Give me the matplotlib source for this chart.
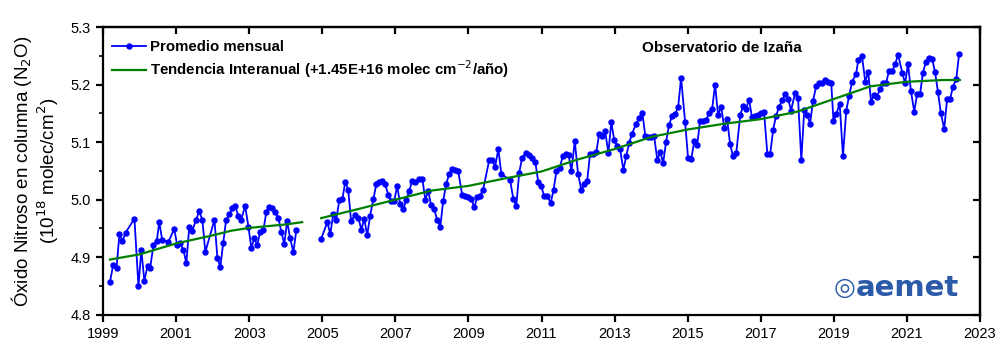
import numpy as np
import matplotlib
matplotlib.use('Agg')
import matplotlib.pyplot as plt
from matplotlib.ticker import MultipleLocator, FormatStrFormatter

plt.rcParams['font.family'] = ['Liberation Sans', 'DejaVu Sans']

# Promedio mensual, 1999 - 2004
years_a = [1999.19, 1999.28, 1999.37, 1999.45, 1999.53, 1999.62, 1999.86, 1999.97,
           2000.05, 2000.13, 2000.22, 2000.29, 2000.38, 2000.47, 2000.54, 2000.62,
           2000.79, 2000.95, 2001.03, 2001.11, 2001.20, 2001.28, 2001.36, 2001.44,
           2001.55, 2001.63, 2001.72, 2001.80, 2002.05, 2002.13, 2002.21, 2002.29,
           2002.37, 2002.46, 2002.54, 2002.62, 2002.70, 2002.78, 2002.89, 2002.98,
           2003.06, 2003.14, 2003.22, 2003.30, 2003.39, 2003.47, 2003.55, 2003.63,
           2003.71, 2003.80, 2003.88, 2003.96, 2004.04, 2004.12, 2004.21, 2004.29]
n2o_a = [4.857, 4.887, 4.881, 4.941, 4.928, 4.943, 4.967, 4.850,
         4.913, 4.859, 4.885, 4.881, 4.921, 4.928, 4.961, 4.930,
         4.927, 4.949, 4.921, 4.924, 4.913, 4.890, 4.952, 4.946,
         4.965, 4.980, 4.965, 4.909, 4.965, 4.899, 4.883, 4.925,
         4.965, 4.975, 4.986, 4.989, 4.972, 4.965, 4.989, 4.953,
         4.916, 4.933, 4.921, 4.944, 4.947, 4.979, 4.988, 4.986,
         4.979, 4.968, 4.944, 4.923, 4.963, 4.933, 4.909, 4.947]

# Promedio mensual, 2005 - 2022
years_b = [2004.97, 2005.14, 2005.22, 2005.30, 2005.38, 2005.47, 2005.55, 2005.63,
           2005.71, 2005.79, 2005.90, 2005.99, 2006.07, 2006.15, 2006.23, 2006.31,
           2006.40, 2006.48, 2006.56, 2006.64, 2006.72, 2006.81, 2006.89, 2006.97,
           2007.05, 2007.13, 2007.22, 2007.30, 2007.38, 2007.46, 2007.54, 2007.65,
           2007.74, 2007.82, 2007.90, 2007.98, 2008.06, 2008.15, 2008.23, 2008.31,
           2008.39, 2008.47, 2008.56, 2008.64, 2008.72, 2008.83, 2008.91, 2008.99,
           2009.08, 2009.16, 2009.24, 2009.32, 2009.40, 2009.57, 2009.65, 2009.73,
           2009.82, 2009.90, 2010.14, 2010.23, 2010.31, 2010.39, 2010.47, 2010.58,
           2010.66, 2010.75, 2010.83, 2010.91, 2010.99, 2011.07, 2011.16, 2011.25,
           2011.33, 2011.41, 2011.50, 2011.58, 2011.66, 2011.74, 2011.82, 2011.91,
           2012.00, 2012.09, 2012.17, 2012.25, 2012.33, 2012.41, 2012.50, 2012.58,
           2012.66, 2012.74, 2012.83, 2012.91, 2012.99, 2013.07, 2013.15, 2013.24,
           2013.32, 2013.40, 2013.48, 2013.59, 2013.67, 2013.76, 2013.84, 2013.92,
           2014.00, 2014.08, 2014.17, 2014.25, 2014.33, 2014.41, 2014.49, 2014.58,
           2014.66, 2014.74, 2014.82, 2014.93, 2015.01, 2015.10, 2015.18, 2015.26,
           2015.34, 2015.42, 2015.51, 2015.59, 2015.67, 2015.75, 2015.83, 2015.92,
           2016.00, 2016.08, 2016.16, 2016.24, 2016.33, 2016.44, 2016.52, 2016.60,
           2016.68, 2016.76, 2016.85, 2016.93, 2017.01, 2017.09, 2017.18, 2017.26,
           2017.34, 2017.42, 2017.50, 2017.59, 2017.67, 2017.75, 2017.83, 2017.94,
           2018.02, 2018.11, 2018.19, 2018.27, 2018.35, 2018.43, 2018.52, 2018.60,
           2018.68, 2018.76, 2018.84, 2018.93, 2018.99, 2019.07, 2019.16, 2019.25,
           2019.34, 2019.42, 2019.50, 2019.61, 2019.67, 2019.77, 2019.86, 2019.94,
           2020.02, 2020.10, 2020.18, 2020.27, 2020.35, 2020.43, 2020.51, 2020.60,
           2020.68, 2020.76, 2020.87, 2020.95, 2021.03, 2021.11, 2021.20, 2021.28,
           2021.36, 2021.44, 2021.52, 2021.61, 2021.69, 2021.77, 2021.85, 2021.93,
           2022.02, 2022.10, 2022.18, 2022.26, 2022.35, 2022.43]
n2o_b = [4.932, 4.961, 4.940, 4.975, 4.965, 5.000, 5.001, 5.031,
         5.017, 4.963, 4.974, 4.968, 4.948, 4.967, 4.938, 4.972,
         5.001, 5.027, 5.031, 5.033, 5.027, 5.008, 4.998, 4.998,
         5.024, 4.993, 4.984, 5.000, 5.015, 5.033, 5.031, 5.036,
         5.036, 5.000, 5.015, 4.990, 4.984, 4.964, 4.953, 4.998,
         5.027, 5.044, 5.053, 5.051, 5.050, 5.008, 5.007, 5.005,
         5.001, 4.987, 5.004, 5.007, 5.017, 5.069, 5.069, 5.057,
         5.088, 5.045, 5.034, 5.001, 4.989, 5.047, 5.073, 5.082,
         5.078, 5.073, 5.066, 5.031, 5.024, 5.007, 5.007, 4.994,
         5.017, 5.050, 5.055, 5.076, 5.080, 5.078, 5.050, 5.102,
         5.045, 5.017, 5.027, 5.033, 5.080, 5.080, 5.083, 5.115,
         5.111, 5.120, 5.081, 5.135, 5.104, 5.094, 5.088, 5.052,
         5.076, 5.099, 5.115, 5.132, 5.142, 5.151, 5.111, 5.109,
         5.109, 5.111, 5.069, 5.083, 5.064, 5.101, 5.130, 5.146,
         5.149, 5.161, 5.212, 5.135, 5.073, 5.071, 5.102, 5.095,
         5.137, 5.137, 5.139, 5.151, 5.158, 5.200, 5.148, 5.161,
         5.125, 5.140, 5.097, 5.076, 5.081, 5.148, 5.163, 5.158,
         5.174, 5.143, 5.145, 5.148, 5.150, 5.153, 5.080, 5.080,
         5.122, 5.146, 5.161, 5.173, 5.184, 5.175, 5.155, 5.186,
         5.177, 5.069, 5.156, 5.148, 5.132, 5.172, 5.198, 5.203,
         5.202, 5.208, 5.205, 5.202, 5.137, 5.149, 5.167, 5.076,
         5.155, 5.181, 5.205, 5.219, 5.243, 5.250, 5.205, 5.222,
         5.170, 5.182, 5.179, 5.193, 5.202, 5.203, 5.224, 5.224,
         5.236, 5.252, 5.221, 5.202, 5.236, 5.189, 5.153, 5.184,
         5.184, 5.221, 5.240, 5.247, 5.245, 5.222, 5.187, 5.150,
         5.123, 5.175, 5.175, 5.196, 5.210, 5.254]

# Tendencia interanual
trend_years_a = [1999.19, 2000.0, 2001.0, 2002.0, 2002.5, 2003.0, 2004.0, 2004.45]
trend_a = [4.896, 4.905, 4.924, 4.938, 4.946, 4.951, 4.957, 4.961]
trend_years_b = [2004.97, 2006.0, 2007.0, 2008.0, 2009.0, 2010.0, 2011.0, 2012.0,
                 2013.0, 2014.0, 2015.0, 2016.0, 2017.0, 2018.0, 2019.0, 2020.0,
                 2021.0, 2022.0, 2022.45]
trend_b = [4.968, 4.984, 5.000, 5.016, 5.024, 5.037, 5.049, 5.070,
           5.088, 5.109, 5.122, 5.132, 5.140, 5.153, 5.175, 5.197,
           5.205, 5.208, 5.208]

fig = plt.figure(figsize=(10, 3.61), dpi=100)
ax = fig.add_axes([0.103, 0.128, 0.877, 0.797])

blue = '#0000ff'
green = '#008000'
ax.plot(years_a, n2o_a, '-o', color=blue, lw=1.3, ms=3.6, zorder=2,
        label='Promedio mensual')
ax.plot(years_b, n2o_b, '-o', color=blue, lw=1.3, ms=3.6, zorder=2)
ax.plot(trend_years_a, trend_a, '-', color=green, lw=1.6, zorder=3,
        label='Tendencia Interanual (+1.45E+16 molec cm$^{-2}$/año)')
ax.plot(trend_years_b, trend_b, '-', color=green, lw=1.6, zorder=3)

ax.set_xlim(1999, 2023)
ax.set_ylim(4.8, 5.3)
ax.set_xticks(np.arange(1999, 2024, 2))
ax.yaxis.set_major_locator(MultipleLocator(0.1))
ax.yaxis.set_minor_locator(MultipleLocator(0.05))
ax.yaxis.set_major_formatter(FormatStrFormatter('%.1f'))

for s in ax.spines.values():
    s.set_linewidth(1.6)
ax.tick_params(axis='both', which='major', labelsize=10.5, width=1.6, length=5,
               direction='out')
ax.tick_params(axis='y', which='minor', width=1.2, length=3, direction='out')

# mirrored ticks on top and right, pointing inward
ax_top = ax.secondary_xaxis('top')
ax_top.set_xticks(np.arange(1999, 2024, 2))
ax_top.tick_params(direction='in', width=1.6, length=5, labeltop=False)
ax_right = ax.secondary_yaxis('right')
ax_right.yaxis.set_major_locator(MultipleLocator(0.1))
ax_right.tick_params(direction='in', width=1.6, length=5, labelright=False)
ax_right.spines['right'].set_linewidth(1.6)
ax_top.spines['top'].set_linewidth(1.6)

ax.set_ylabel('Óxido Nitroso en columna (N$_2$O)\n(10$^{18}$ molec/cm$^2$)',
              fontsize=13.5, linespacing=1.1, labelpad=7)

ax.legend(loc='upper left', bbox_to_anchor=(0.003, 0.975), frameon=False,
          handlelength=2.3, labelspacing=0.28, borderaxespad=0.0,
          handletextpad=0.25, prop={'weight': 'bold', 'size': 10.8})

ax.text(0.706, 0.929, 'Observatorio de Izaña', transform=ax.transAxes,
        ha='center', va='center', fontsize=11, fontweight='bold')

fig.text(0.907, 0.203, 'aemet', ha='center', va='center', fontsize=21,
         fontweight='bold', color='#2a5aa8', family='DejaVu Sans')
fig.text(0.845, 0.203, '◎', ha='center', va='center', fontsize=18,
         color='#2a5aa8', family='DejaVu Sans')

fig.savefig('out.png', dpi=100)
